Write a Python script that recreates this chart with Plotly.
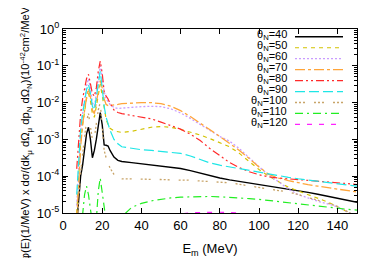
import plotly.graph_objects as go

# Missing energy grid (MeV)
e_m = [7, 8, 9, 10, 11, 12, 13, 14, 15, 16, 17, 18, 19, 20, 21, 22, 23, 24, 26, 28, 30,
       35, 40, 45, 50, 55, 60, 65, 70, 75, 80, 85, 90, 95, 100, 105, 110, 115, 120, 125,
       130, 135, 140, 145, 150]

# log10 of the flux-folded cross section, one list per angle
log_th40 = [-5.3, -4.5, -4.0, -3.7, -3.3, -2.85, -2.67, -3.0, -3.5, -3.3, -3.0, -2.6, -2.27, -2.6,
            -3.15, -3.16, -3.18, -3.3, -3.48, -3.57, -3.6, -3.63, -3.66, -3.69, -3.72, -3.75,
            -3.79, -3.85, -3.92, -3.99, -4.05, -4.1, -4.14, -4.19, -4.23, -4.27, -4.32, -4.36,
            -4.40, -4.44, -4.49, -4.55, -4.6, -4.66, -4.71]
log_th50 = [-5.0, -3.9, -3.1, -2.6, -2.2, -1.9, -1.75, -1.95, -2.3, -2.4, -2.1, -1.75, -1.5, -1.8,
            -2.2, -2.45, -2.6, -2.7, -2.77, -2.8, -2.81, -2.78, -2.72, -2.67, -2.65, -2.67,
            -2.73, -2.8, -2.88, -2.98, -3.08, -3.2, -3.38, -3.6, -3.82, -4.0, -4.15, -4.3,
            -4.4, -4.5, -4.6, -4.7, -4.83, -4.96, -5.1]
log_th60 = [-4.8, -3.6, -2.8, -2.3, -1.9, -1.55, -1.35, -1.6, -2.0, -2.1, -1.75, -1.3, -1.0, -1.3,
            -1.7, -1.9, -1.97, -2.05, -2.13, -2.16, -2.15, -2.12, -2.11, -2.1, -2.11, -2.17,
            -2.28, -2.43, -2.6, -2.77, -2.92, -3.05, -3.25, -3.5, -3.75, -3.98, -4.15, -4.35,
            -4.5, -4.6, -4.68, -4.75, -4.83, -4.97, -5.1]
log_th70 = [-5.2, -4.0, -3.2, -2.6, -2.2, -1.85, -1.62, -1.85, -2.2, -2.3, -2.0, -1.65, -1.4, -1.6,
            -1.9, -2.05, -2.08, -2.08, -2.07, -2.05, -2.03, -2.01, -2.0, -2.0, -2.03, -2.1,
            -2.22, -2.38, -2.55, -2.74, -2.92, -3.1, -3.3, -3.52, -3.75, -3.95, -4.05, -4.12,
            -4.18, -4.23, -4.27, -4.31, -4.35, -4.39, -4.43]
log_th80 = [-3.8, -2.9, -2.3, -1.9, -1.6, -1.35, -1.23, -1.45, -1.75, -1.83, -1.6, -1.15, -0.87,
            -1.2, -1.7, -1.82, -1.9, -2.02, -2.2, -2.27, -2.3, -2.35, -2.39, -2.44, -2.53,
            -2.62, -2.72, -2.86, -3.03, -3.25, -3.45, -3.63, -3.77, -3.88, -3.96, -4.02,
            -4.05, -4.07, -4.09, -4.1, -4.12, -4.15, -4.17, -4.2, -4.23]
log_th90 = [-4.5, -3.4, -2.7, -2.3, -1.95, -1.65, -1.5, -1.75, -2.1, -2.2, -1.85, -1.45, -1.15,
            -1.6, -2.1, -2.4, -2.6, -2.75, -3.0, -3.12, -3.2, -3.25, -3.28, -3.3, -3.32, -3.34,
            -3.38, -3.45, -3.55, -3.64, -3.7, -3.75, -3.8, -3.84, -3.88, -3.93, -3.98, -4.03,
            -4.07, -4.1, -4.14, -4.18, -4.21, -4.24, -4.27]
log_th100 = [-5.5, -4.6, -3.9, -3.4, -2.9, -2.5, -2.3, -2.6, -3.0, -2.95, -2.6, -2.2, -2.0, -2.8,
             -3.3, -3.5, -3.65, -3.78, -3.95, -4.05, -4.07, -4.07, -4.08, -4.08, -4.09, -4.1,
             -4.1, -4.11, -4.13, -4.14, -4.15, -4.18, -4.22, -4.27, -4.31, -4.35, -4.39,
             -4.43, -4.5, -4.57, -4.65, -4.73, -4.82, -4.96, -5.1]
log_th110 = [-6.0, -6.0, -5.6, -5.0, -4.5, -4.27, -4.5, -4.9, -5.3, -5.6, -5.2, -4.4, -4.05, -4.5,
             -5.0, -5.6, -6.0, -6.0, -6.0, -5.5, -5.1, -4.85, -4.74, -4.67, -4.62, -4.59,
             -4.57, -4.56, -4.55, -4.55, -4.56, -4.57, -4.59, -4.61, -4.63, -4.66, -4.69,
             -4.72, -4.76, -4.79, -4.82, -4.85, -4.88, -4.9, -4.92]
log_th120 = [-7.0, -7.0, -7.0, -7.0, -7.0, -7.0, -7.0, -7.0, -7.0, -7.0, -7.0, -7.0, -7.0, -7.0,
             -7.0, -7.0, -7.0, -7.0, -7.0, -7.0, -7.0, -6.5, -6.0, -5.6, -5.3, -5.12, -5.03,
             -4.99, -4.98, -4.98, -4.98, -4.99, -5.0, -5.04, -5.1, -5.2, -5.3, -5.45, -5.6,
             -5.8, -6.0, -6.2, -6.4, -6.6, -6.8]

angles = [40, 50, 60, 70, 80, 90, 100, 110, 120]
series_logs = [log_th40, log_th50, log_th60, log_th70, log_th80, log_th90, log_th100,
               log_th110, log_th120]

colors = ["#000000", "#d2c200", "#c99cff", "#ffa53a", "#ff2a2a", "#1ee6e6", "#c8a468",
          "#22ee22", "#ff22ff"]
dashes = ["solid", "4px,4px", "2px,2px", "10px,3px,3px,3px", "8px,3px,2px,3px,2px,3px",
          "10px,4px", "2px,2px,2px,2px,2px,9px", "8px,4px,2px,4px", "5px,7px"]
widths = [1.4, 1.2, 1.3, 1.3, 1.2, 1.2, 1.3, 1.2, 1.2]

y_tickvals = [1, 0.1, 0.01, 0.001, 0.0001, 0.00001]
y_ticktext = ["10<sup>0</sup>", "10<sup>-1</sup>", "10<sup>-2</sup>", "10<sup>-3</sup>",
              "10<sup>-4</sup>", "10<sup>-5</sup>"]
x_tickvals = [0, 20, 40, 60, 80, 100, 120, 140]

fig = go.Figure()
for ang, lg, c, d, w in zip(angles, series_logs, colors, dashes, widths):
    fig.add_trace(go.Scatter(
        x=e_m, y=[10 ** v for v in lg], mode="lines",
        line=dict(color=c, dash=d, width=w), name=f"θN={ang}", showlegend=False))

# gnuplot-style legend: right-aligned label followed by a line sample
annotations = []
shapes = []
L, R, T, B = 55, 349, 13, 218
for i, (ang, c, d, w) in enumerate(zip(angles, colors, dashes, widths)):
    ypx = 21.7 + 12.2 * i
    yp = (B - ypx) / (B - T)
    annotations.append(dict(
        x=(280 - L) / (R - L), y=yp + 1.5 / (B - T), xref="paper", yref="paper",
        text=f"θ<sub>N</sub>={ang}", showarrow=False, xanchor="right", yanchor="middle",
        borderpad=0,
        font=dict(size=11, color="#000000", family="Liberation Sans, Arial, sans-serif")))
    shapes.append(dict(
        type="line", xref="paper", yref="paper",
        x0=(287 - L) / (R - L), x1=(335 - L) / (R - L), y0=yp, y1=yp,
        line=dict(color=c, dash=d, width=w)))

font = dict(family="Liberation Sans, Arial, sans-serif", size=13, color="#000000")
fig.update_layout(
    width=368, height=258,
    margin=dict(l=L, r=368 - R, t=T, b=258 - B),
    paper_bgcolor="white", plot_bgcolor="white",
    font=font,
    annotations=annotations, shapes=shapes,
    xaxis=dict(
        range=[0, 150], tickvals=x_tickvals, ticks="inside", ticklen=5, tickcolor="#000",
        showline=True, linecolor="#000", linewidth=1, mirror="ticks", showgrid=False,
        zeroline=False, tickfont=font,
        title=dict(text="E<sub>m</sub> (MeV)", font=font, standoff=12)),
    yaxis=dict(
        type="log", range=[-5, 0], tickvals=y_tickvals, ticktext=y_ticktext,
        ticks="inside", ticklen=5, tickcolor="#000",
        minor=dict(ticks="inside", ticklen=3, dtick="D1", tickcolor="#000", showgrid=False),
        showline=True, linecolor="#000", linewidth=1, mirror="ticks", showgrid=False,
        zeroline=False, tickfont=font,
        title=dict(text="φ(E)(1/MeV) x dσ/(dk<sub>μ</sub> dΩ<sub>μ</sub> dp<sub>N</sub> dΩ<sub>N</sub>)(10<sup>-42</sup>cm<sup>2</sup>/MeV<sup>2</sup>/sr<sup>2</sup>)",
                   font=dict(family="Liberation Sans, Arial, sans-serif", size=11.2, color="#000"),
                   standoff=4)),
)

fig.write_html("out.html")
